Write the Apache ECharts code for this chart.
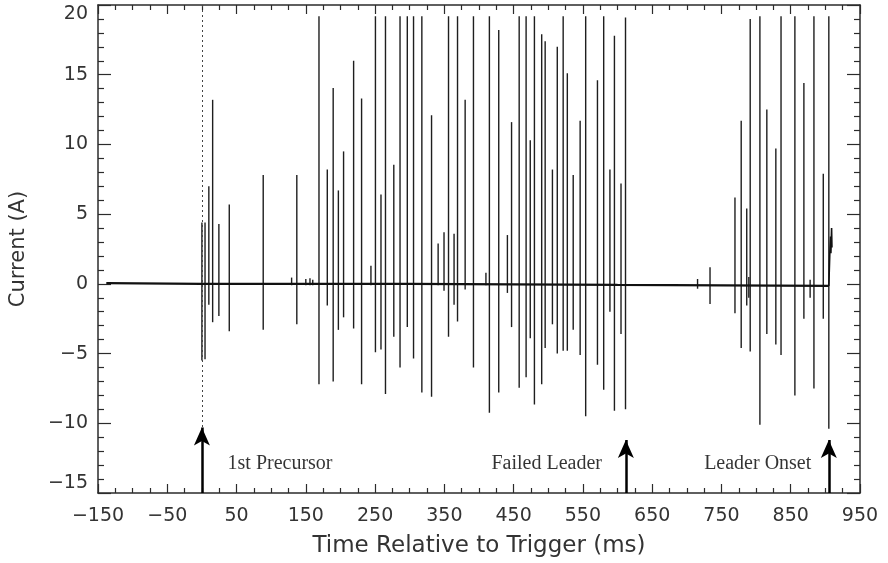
<!DOCTYPE html>
<html>
<head>
<meta charset="utf-8">
<script src="https://cdn.jsdelivr.net/npm/echarts@6/dist/echarts.min.js"></script>
<style>
html,body{margin:0;padding:0;background:#fff;}
#chart{width:888px;height:563px;}
</style>
</head>
<body>
<div id="chart"></div>
<script>
// ---- Data ----
const xMin = -150, xMax = 950, xStep = 100;
const yMin = -15, yMax = 20, yStep = 5;

// spike times (ms), positive and negative excursion peaks (A)
const spikeTimes = [0, 4.5, 10, 15.5, 24.5, 39.5, 88.5, 129.5, 137, 150, 156, 160,
  169, 181, 189.5, 197, 204.5, 219, 230.5, 244, 250.5, 258.5, 265, 277, 286, 296.5,
  305.5, 317.5, 331.5, 341, 349.5, 356, 364, 369, 380, 392, 410, 415, 428.5, 441,
  447, 458, 468, 474, 480, 490.5, 495.5, 506, 513, 521.5, 527.5, 536, 546, 554,
  571, 580, 589, 595.5, 605, 611.5, 715.5, 733.5, 769.5, 778.5, 786.5, 789.5,
  791.5, 805.5, 815.5, 828.5, 836, 856, 869, 878, 883.5, 897, 905];
const spikeHigh = [4.4, 4.4, 7.0, 13.2, 4.3, 5.7, 7.8, 0.45, 7.8, 0.35, 0.4, 0.3,
  19.2, 8.2, 14.05, 6.7, 9.5, 16.0, 13.3, 1.3, 19.2, 6.4, 19.2, 8.55, 19.2, 19.2,
  19.2, 19.2, 12.1, 2.9, 3.7, 19.2, 3.6, 19.2, 13.2, 19.2, 0.8, 19.2, 18.2, 3.5,
  11.6, 19.2, 19.2, 10.3, 19.2, 17.9, 17.4, 8.2, 17.0, 19.2, 15.1, 7.8, 11.7, 19.2,
  14.6, 19.2, 8.2, 17.8, 7.2, 19.1, 0.35, 1.2, 6.2, 11.7, 5.4, 0.5,
  19.0, 19.2, 12.5, 9.7, 19.2, 19.2, 14.4, 0.3, 19.2, 7.9, 19.2];
const spikeLow = [-5.5, -5.4, -1.5, -2.75, -2.3, -3.4, -3.3, -0.1, -2.9, -0.1, -0.1, -0.1,
  -7.2, -1.55, -7.0, -3.3, -2.4, -3.2, -7.2, -0.1, -4.9, -4.7, -7.9, -3.8, -6.0, -3.1,
  -5.35, -7.8, -8.1, -0.1, -0.5, -3.8, -1.5, -2.7, -0.4, -6.0, -0.1, -9.25, -7.8, -0.65,
  -3.1, -7.45, -6.7, -3.9, -8.65, -7.2, -4.6, -2.9, -5.0, -4.8, -4.8, -3.3, -5.1, -9.5,
  -5.8, -7.6, -2.0, -9.1, -3.6, -9.0, -0.35, -1.45, -2.1, -4.6, -1.55, -1.0,
  -4.85, -10.1, -3.6, -4.35, -5.1, -8.0, -2.5, -1.0, -7.5, -2.5, -10.4];

// baseline trace (ms, A)
const baseTimes = [-138, 0, 300, 600, 905];
const baseValues = [0.05, 0.0, 0.0, -0.08, -0.15];

// trace tail after leader onset (ms, A)
const tailTimes = [905, 906.5, 907.5, 908, 909, 909.5];
const tailValues = [-0.15, 2.3, 3.4, 2.2, 4.0, 2.6];

// event markers
const eventTimes = [0, 612, 905];
const eventLabels = ['1st Precursor', 'Failed Leader', 'Leader Onset'];
const labelTimes = [37, 418, 725];
const labelValue = -12.9;
const arrowTips = [-10.3, -11.2, -11.2];
const dottedEnd = -10.3;

// ---- Chart ----
const chart = echarts.init(document.getElementById('chart'), null, {renderer: 'canvas'});
const axisColor = '#2b2b2b';
const labelFont = 'DejaVu Sans';
const fmt = v => (v < 0 ? '\u2212' + Math.abs(v) : String(v));

function xAx(pos, showLabel) {
  return {
    type: 'value', min: xMin, max: xMax, interval: xStep, position: pos,
    axisLine: {show: true, onZero: false, lineStyle: {color: axisColor, width: 1.5}},
    axisTick: {show: true, inside: true, length: 9, lineStyle: {color: axisColor, width: 1.2}},
    minorTick: {show: true, splitNumber: 4, length: 5, lineStyle: {color: axisColor, width: 1.2}},
    splitLine: {show: false}, minorSplitLine: {show: false},
    axisLabel: {show: showLabel, formatter: fmt, fontFamily: labelFont, fontSize: 19,
      color: '#333', margin: 14},
    name: showLabel ? 'Time Relative to Trigger (ms)' : '',
    nameLocation: 'middle', nameGap: 42,
    nameTextStyle: {fontFamily: labelFont, fontSize: 23, color: '#333'}
  };
}
function yAx(pos, showLabel) {
  return {
    type: 'value', min: yMin, max: yMax, interval: yStep, position: pos,
    axisLine: {show: true, onZero: false, lineStyle: {color: axisColor, width: 1.5}},
    axisTick: {show: true, inside: true, length: 13, lineStyle: {color: axisColor, width: 1.2}},
    minorTick: {show: true, splitNumber: 5, length: 6, lineStyle: {color: axisColor, width: 1.2}},
    splitLine: {show: false}, minorSplitLine: {show: false},
    axisLabel: {show: showLabel, formatter: fmt, fontFamily: labelFont, fontSize: 19,
      color: '#333', margin: 10, verticalAlignMinLabel: 'bottom', verticalAlignMaxLabel: 'top'},
    name: showLabel ? 'Current (A)' : '',
    nameLocation: 'middle', nameGap: 69, nameRotate: 90,
    nameTextStyle: {fontFamily: labelFont, fontSize: 21, color: '#333'}
  };
}

const spikeData = spikeTimes.map((t, i) => [t, spikeHigh[i], spikeLow[i]]);

const option = {
  animation: false,
  backgroundColor: '#fff',
  grid: {left: 98, right: 28, top: 5, bottom: 69},
  xAxis: [xAx('bottom', true), xAx('top', false)],
  yAxis: [yAx('left', true), yAx('right', false)],
  series: [
    {
      type: 'custom', name: 'spikes', silent: true, clip: true,
      data: spikeData,
      encode: {x: 0, y: [1, 2]},
      renderItem: function (params, api) {
        const p1 = api.coord([api.value(0), api.value(1)]);
        const p2 = api.coord([api.value(0), api.value(2)]);
        return {type: 'line', shape: {x1: p1[0], y1: p1[1], x2: p2[0], y2: p2[1]},
          style: {stroke: '#1e1e1e', lineWidth: 1.4}};
      }
    },
    {
      type: 'line', name: 'baseline', silent: true, showSymbol: false,
      data: baseTimes.map((t, i) => [t, baseValues[i]]),
      lineStyle: {color: '#111', width: 2.2},
      markLine: {
        silent: true, symbol: ['none', 'none'],
        label: {show: false},
        lineStyle: {color: '#444', type: [2, 3], width: 1},
        data: [[{coord: [eventTimes[0], yMax]}, {coord: [eventTimes[0], dottedEnd]}]]
      }
    },
    {
      type: 'line', name: 'tail', silent: true, showSymbol: false,
      data: tailTimes.map((t, i) => [t, tailValues[i]]),
      lineStyle: {color: '#111', width: 1.6}
    },
    {
      type: 'line', name: 'arrows', silent: true, data: [],
      markLine: {
        silent: true, symbol: ['none', 'arrow'], symbolSize: [12, 18],
        label: {show: false},
        lineStyle: {color: '#000', type: 'solid', width: 2.5},
        data: eventTimes.map((t, i) => [{coord: [t, yMin]}, {coord: [t, arrowTips[i]]}])
      }
    },
    {
      type: 'scatter', name: 'labels', silent: true, symbolSize: 0,
      data: labelTimes.map((t, i) => ({value: [t, labelValue], name: eventLabels[i]})),
      label: {show: true, position: 'right', distance: 0, formatter: '{b}',
        fontFamily: 'Liberation Serif', fontSize: 20, color: '#000'}
    }
  ]
};
chart.setOption(option);
</script>
</body>
</html>
